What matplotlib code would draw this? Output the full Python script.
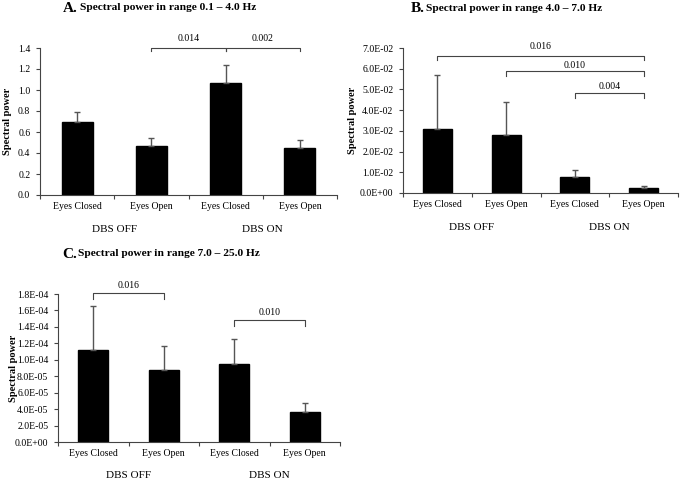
import matplotlib
matplotlib.use("Agg")
import matplotlib.pyplot as plt
from matplotlib.ticker import FuncFormatter

plt.rcParams['font.family'] = ['Liberation Serif', 'DejaVu Serif']

categories = ["Eyes Closed", "Eyes Open", "Eyes Closed", "Eyes Open"]
groups = ["DBS OFF", "DBS ON"]

a_values = [0.70, 0.47, 1.07, 0.45]
a_err = [0.09, 0.07, 0.17, 0.07]
b_values = [0.031, 0.028, 0.0078, 0.0024]
b_err = [0.026, 0.0157, 0.0032, 0.0011]
c_values = [1.12e-4, 0.88e-4, 0.95e-4, 0.37e-4]
c_err = [0.53e-4, 0.29e-4, 0.30e-4, 0.10e-4]

a_ticks = [0.0, 0.2, 0.4, 0.6, 0.8, 1.0, 1.2, 1.4]
b_ticks = [0.0, 0.01, 0.02, 0.03, 0.04, 0.05, 0.06, 0.07]
c_ticks = [0.0, 2e-5, 4e-5, 6e-5, 8e-5, 1e-4, 1.2e-4, 1.4e-4, 1.6e-4, 1.8e-4]

# brackets: (x1, x2, top, drop, text_y, label)
a_brackets = [(1, 2, 1.40, 0.032, 1.49, "0.014"), (2, 3, 1.40, 0.032, 1.49, "0.002")]
b_brackets = [(0, 3, 0.0662, 0.0022, 0.0705, "0.016"),
              (1, 3, 0.0590, 0.0026, 0.0615, "0.010"),
              (2, 3, 0.0484, 0.0024, 0.0516, "0.004")]
c_brackets = [(0, 1, 1.81e-4, 0.07e-4, 1.90e-4, "0.016"),
              (2, 3, 1.486e-4, 0.075e-4, 1.57e-4, "0.010")]

W, H = 685, 482
fig = plt.figure(figsize=(W / 100, H / 100), dpi=100)


def px_axes(left, right, top, bottom):
    return fig.add_axes([left / W, 1 - bottom / H, (right - left) / W, (bottom - top) / H])


def sci(v, pos):
    return "%.1E" % v


def panel(ax, vals, errs, ticks, fmt, brackets, letter, title, title_x, title_y, ylab_x, group_y):
    x = range(len(vals))
    ax.bar(x, vals, width=0.42, color="black", edgecolor="black", zorder=2)
    ax.errorbar(x, vals, yerr=[[0] * len(vals), errs], fmt="none", ecolor="#555555",
                elinewidth=1.0, capsize=2.2, capthick=1.0, zorder=3)
    ax.set_xlim(-0.5, 3.5)
    ax.set_ylim(ticks[0], ticks[-1])
    ax.set_yticks(ticks)
    ax.yaxis.set_major_formatter(FuncFormatter(fmt))
    ax.set_xticks([0, 1, 2, 3])
    ax.set_xticklabels(categories, fontsize=7)
    ax.set_xticks([-0.5, 0.5, 1.5, 2.5, 3.5], minor=True)
    ax.tick_params(axis="x", which="major", length=0, pad=5)
    ax.tick_params(axis="x", which="minor", length=3, direction="out", width=0.8, color="#444444")
    ax.tick_params(axis="y", length=3, direction="out", width=0.8, labelsize=7, pad=4, color="#444444")
    for s in ["top", "right"]:
        ax.spines[s].set_visible(False)
    for s in ["left", "bottom"]:
        ax.spines[s].set_color("#444444")
        ax.spines[s].set_linewidth(0.8)
    ax.set_ylabel("Spectral power", fontsize=7.5, fontweight="bold")
    ax.yaxis.set_label_coords(ylab_x, 0.5)
    for (x1, x2, top, drop, ty, lab) in brackets:
        ax.plot([x1, x1, x2, x2], [top - drop, top, top, top - drop], color="#444444",
                lw=0.8, clip_on=False)
        ax.text((x1 + x2) / 2, ty, lab, ha="center", va="center", fontsize=7, clip_on=False)
    trans = ax.get_xaxis_transform()
    ax.text(0.5, group_y, groups[0], transform=trans, ha="center", va="center", fontsize=8)
    ax.text(2.5, group_y, groups[1], transform=trans, ha="center", va="center", fontsize=8)
    t = ax.text(title_x, title_y, title, transform=ax.transAxes, ha="center", va="center",
                fontsize=8.2, fontweight="bold")
    fig.canvas.draw()
    bb = t.get_window_extent()
    inv = ax.transAxes.inverted()
    lx = inv.transform((bb.x0 - 1.5, 0))[0]
    ax.text(lx, title_y - 0.004, letter, transform=ax.transAxes, ha="right", va="center",
            fontsize=11, fontweight="bold")


axA = px_axes(40, 337, 48, 195)
panel(axA, a_values, a_err, a_ticks, lambda v, p: "%.1f" % v, a_brackets, "A.",
      "Spectral power in range 0.1 \u2013 4.0 Hz", 0.43, (195 - 7.5) / 147, -0.095,
      -(230 - 195) / 147)

axB = px_axes(403, 678, 48, 193)
panel(axB, b_values, b_err, b_ticks, sci, b_brackets, "B.",
      "Spectral power in range 4.0 \u2013 7.0 Hz", 0.405, (193 - 8) / 145, -0.167,
      -(228 - 193) / 145)

axC = px_axes(58, 340, 294, 442)
panel(axC, c_values, c_err, c_ticks, sci, c_brackets, "C.",
      "Spectral power in range 7.0 \u2013 25.0 Hz", 0.394, (442 - 254) / 148, -0.142,
      -(476 - 442) / 148)

fig.savefig("out.png", dpi=100)
